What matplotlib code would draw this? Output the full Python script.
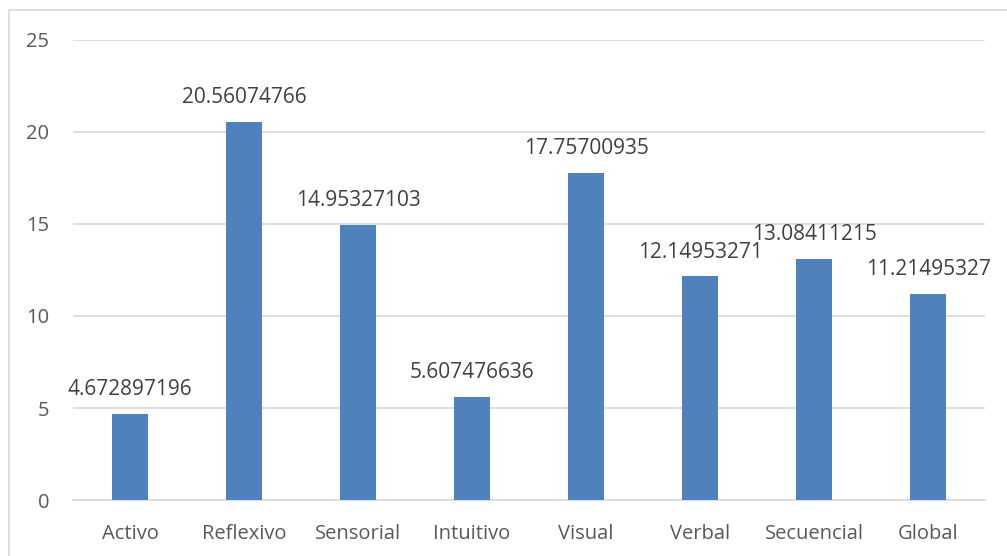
import matplotlib
matplotlib.use("Agg")
import matplotlib.pyplot as plt
from matplotlib.patches import Rectangle

categories = ["Activo", "Reflexivo", "Sensorial", "Intuitivo", "Visual", "Verbal", "Secuencial", "Global"]
values = [4.672897196, 20.56074766, 14.95327103, 5.607476636, 17.75700935, 12.14953271, 13.08411215, 11.21495327]
labels = ["4.672897196", "20.56074766", "14.95327103", "5.607476636", "17.75700935", "12.14953271", "13.08411215", "11.21495327"]
yticks = [0, 5, 10, 15, 20, 25]

W, H = 1007, 556
fig = plt.figure(figsize=(W / 100, H / 100), dpi=100)
plt.rcParams['font.family'] = ['Open Sans', 'DejaVu Sans']

# outer chart border
fig.patches.append(Rectangle((9 / W, -0.1), 1.2, 1 - 10 / H + 0.1, transform=fig.transFigure,
                             fill=False, edgecolor="#D9D9D9", linewidth=1.2))

left, right, top, bottom = 73, 985, 40, 500
ax = fig.add_axes([left / W, 1 - bottom / H, (right - left) / W, (bottom - top) / H])
x = list(range(len(categories)))
ax.bar(x, values, width=0.315, color="#4F81BD", zorder=3)
ax.set_xlim(-0.5, len(categories) - 0.5)
ax.set_ylim(0, 25)
ax.set_yticks(yticks)
ax.set_xticks(x)
ax.set_xticklabels(categories)
ax.grid(axis="y", color="#D9D9D9", linewidth=1.2, zorder=0)
for s in ["top", "right", "left"]:
    ax.spines[s].set_visible(False)
ax.spines["bottom"].set_color("#D9D9D9")
ax.spines["bottom"].set_linewidth(1.2)
ax.tick_params(axis="both", length=0, labelsize=14.5, labelcolor="#595959")
ax.tick_params(axis="y", pad=17)
ax.tick_params(axis="x", pad=17)

for xi, v, lab in zip(x, values, labels):
    ax.annotate(lab, (xi, v), xytext=(0, 10), textcoords="offset points",
                ha="center", va="bottom", fontsize=15, color="#404040")

fig.savefig("out.png", dpi=100)
